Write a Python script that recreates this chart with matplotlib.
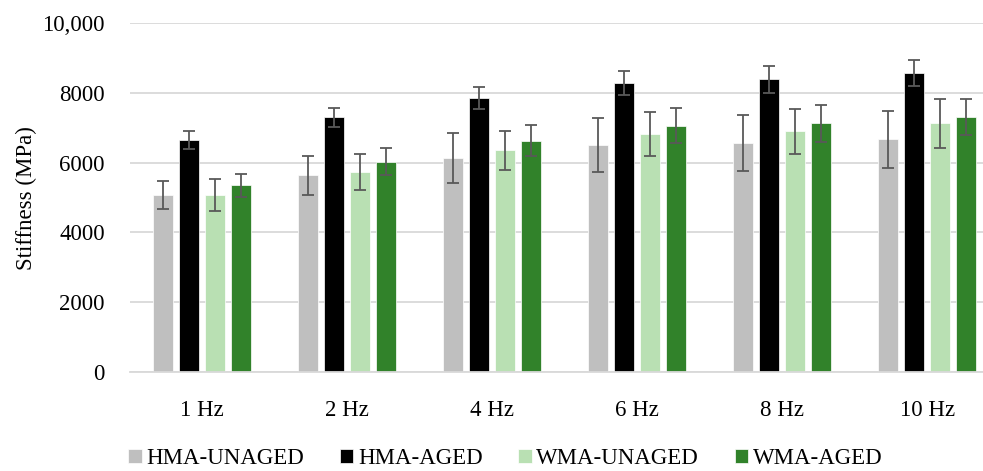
import numpy as np
import matplotlib.pyplot as plt

categories = ['1 Hz', '2 Hz', '4 Hz', '6 Hz', '8 Hz', '10 Hz']
series = ['HMA-UNAGED', 'HMA-AGED', 'WMA-UNAGED', 'WMA-AGED']

hma_unaged = [5070, 5645, 6125, 6505, 6570, 6665]
hma_aged = [6640, 7300, 7850, 8290, 8385, 8560]
wma_unaged = [5070, 5730, 6350, 6820, 6895, 7125]
wma_aged = [5360, 6030, 6630, 7060, 7125, 7305]

hma_unaged_err = [400, 560, 715, 765, 800, 830]
hma_aged_err = [260, 280, 315, 340, 380, 370]
wma_unaged_err = [450, 520, 570, 630, 650, 700]
wma_aged_err = [330, 390, 450, 500, 530, 525]

colors = ['#bfbfbf', '#000000', '#b9e0b3', '#31822a']

plt.rcParams['font.family'] = ['Liberation Serif', 'DejaVu Serif']

fig = plt.figure(figsize=(9.83, 4.71), dpi=100)
ax = fig.add_axes([0.132, 0.21, 0.885, 0.741])

values = [hma_unaged, hma_aged, wma_unaged, wma_aged]
errors = [hma_unaged_err, hma_aged_err, wma_unaged_err, wma_aged_err]
x = np.arange(len(categories))
step = 0.179
width = 0.14
for i in range(4):
    pos = x + (i - 1.5) * step
    ax.bar(pos, values[i], width, color=colors[i], label=series[i], zorder=2,
           edgecolor='white', linewidth=0.5)
    ax.errorbar(pos, values[i], yerr=errors[i], fmt='none', ecolor='#595959',
                elinewidth=1.3, capsize=4.5, capthick=1.3, zorder=3)

ax.set_ylim(0, 10000)
ax.set_xlim(-0.5, 5.5)
ax.set_yticks([0, 2000, 4000, 6000, 8000, 10000])
ax.set_yticklabels(['0', '2000', '4000', '6000', '8000', '10,000'])
ax.set_xticks(x)
ax.set_xticklabels(categories)
ax.tick_params(axis='both', length=0, labelsize=16.5, colors='#000000')
ax.tick_params(axis='x', pad=20)
ax.tick_params(axis='y', pad=18)
ax.yaxis.grid(True, color='#d9d9d9', linewidth=1.3, zorder=0)
ax.set_axisbelow(True)
for side in ['top', 'right', 'left']:
    ax.spines[side].set_visible(False)
ax.spines['bottom'].set_color('#d9d9d9')
ax.spines['bottom'].set_linewidth(1.3)
ax.set_ylabel('Stiffness (MPa)', fontsize=16.5, labelpad=4)

fig.legend(loc='lower center', ncol=4, bbox_to_anchor=(0.514, -0.04), frameon=False,
           fontsize=16.5, handlelength=0.6, handleheight=0.6, handletextpad=0.2,
           columnspacing=1.55)

fig.savefig('out.png', dpi=100)
